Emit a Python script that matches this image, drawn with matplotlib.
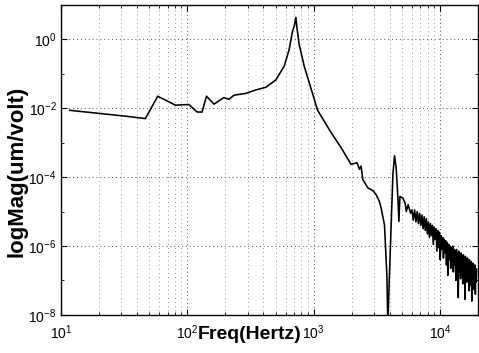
import matplotlib
matplotlib.use("Agg")
import matplotlib.pyplot as plt
import matplotlib.ticker as mticker
import numpy as np

plt.rcParams['font.family'] = ['Liberation Sans', 'DejaVu Sans']
plt.rcParams['mathtext.fontset'] = 'custom'
plt.rcParams['mathtext.rm'] = 'Liberation Sans'
plt.rcParams['mathtext.it'] = 'Liberation Sans:italic'
plt.rcParams['mathtext.bf'] = 'Liberation Sans:bold'

# frequentie (Hz) en log10 van de amplitude
freq_main = [11.8, 33.4, 46.7, 58.4, 80.7, 103, 120, 131, 142, 163, 195, 214,
             235, 290, 348, 419, 502, 585, 641, 681, 703, 724, 735, 769, 843,
             952, 1076, 1372, 1648, 1978, 2207, 2303, 2376, 2450, 2685, 2941,
             3124, 3320, 3421, 3638, 3800, 3866, 3980, 4100, 4240, 4368, 4500,
             4645, 4730, 4820, 5085, 5300, 5410, 5600, 5850]
logmag_main = [-2.06, -2.235, -2.30, -1.65, -1.91, -1.89, -2.11, -2.11, -1.65,
               -1.88, -1.69, -1.74, -1.62, -1.57, -1.47, -1.39, -1.18, -0.78,
               -0.29, 0.24, 0.39, 0.64, 0.39, -0.15, -0.78, -1.42, -2.06, -2.70,
               -3.14, -3.63, -3.58, -3.77, -3.68, -4.07, -4.31, -4.39, -4.51,
               -4.71, -4.90, -5.39, -6.86, -8.3, -6.86, -5.49, -3.92, -3.38,
               -3.73, -4.61, -5.29, -4.56, -4.61, -4.76, -5.0, -4.80, -5.05]

# ruisige staart boven ~6 kHz
freq_tail = [6000, 6150, 6300, 6450, 6600, 6750, 6900, 7050, 7200, 7350, 7500,
             7650, 7800, 7950, 8100, 8250, 8400, 8550, 8700, 8850, 9000, 9150,
             9300, 9450, 9600, 9750, 9900, 10050, 10200, 10350, 10500, 10650,
             10800, 10950, 11100, 11250, 11400, 11550, 11700, 11850, 12000,
             12150, 12300, 12450, 12600, 12750, 12900, 13050, 13200, 13350,
             13500, 13650, 13800, 13950, 14100, 14250, 14400, 14550, 14700,
             14850, 15000, 15150, 15300, 15450, 15600, 15750, 15900, 16050,
             16200, 16350, 16500, 16650, 16800, 16950, 17100, 17250, 17400,
             17550, 17700, 17850, 18000, 18150, 18300, 18450, 18600, 18750,
             18900, 19050, 19200, 19350, 19500]
logmag_tail = [-4.95, -5.25, -4.95, -5.3, -5.0, -5.35, -5.05, -5.4, -5.1, -5.5,
               -5.15, -5.55, -5.2, -5.65, -5.3, -5.75, -5.35, -5.7, -5.4, -5.95,
               -5.45, -5.8, -5.5, -6.15, -5.55, -6.05, -5.6, -6.4, -5.7, -6.1,
               -5.75, -6.35, -5.8, -6.2, -5.85, -6.55, -5.9, -6.85, -5.95, -6.4,
               -6.0, -6.65, -6.05, -6.45, -6.0, -6.75, -6.1, -6.55, -6.15, -7.0,
               -6.1, -6.6, -6.2, -7.5, -6.15, -6.75, -6.25, -6.95, -6.2, -6.65,
               -6.3, -7.1, -6.25, -6.8, -6.35, -7.55, -6.3, -6.9, -6.4, -7.05,
               -6.35, -6.85, -6.45, -7.3, -6.4, -6.95, -6.5, -7.15, -6.45, -7.6,
               -6.55, -7.0, -6.5, -7.25, -6.6, -7.05, -6.55, -7.4, -6.65, -7.05,
               -6.7]

freq = np.array(freq_main + freq_tail)
mag = 10.0 ** np.array(logmag_main + logmag_tail)

fig = plt.figure(figsize=(4.79, 3.53), dpi=100)
ax = fig.add_axes([0.127, 0.108, 0.871, 0.878])

ax.loglog(freq, mag, color='black', linewidth=1.15)

ax.set_xlim(10, 2e4)
ax.set_ylim(1e-8, 1e1)
ax.yaxis.set_major_locator(mticker.FixedLocator([1e-8, 1e-6, 1e-4, 1e-2, 1e0]))
ax.yaxis.set_minor_locator(mticker.FixedLocator([1e-7, 1e-5, 1e-3, 1e-1]))
ax.yaxis.set_minor_formatter(mticker.NullFormatter())

ax.grid(True, which='major', linestyle=(0, (1, 3)), color='0.3', linewidth=0.7)
ax.xaxis.grid(True, which='minor', linestyle=(0, (1, 4)), color='0.45', linewidth=0.6)

ax.tick_params(which='both', direction='in', top=True, right=True,
               labelsize=10)
ax.tick_params(axis='x', pad=6)
ax.tick_params(axis='y', pad=3)
ax.tick_params(which='major', length=4)
ax.tick_params(which='minor', length=2)
for s in ax.spines.values():
    s.set_linewidth(1.0)

ax.set_xlabel('Freq(Hertz)', fontsize=14, fontweight='bold')
ax.xaxis.set_label_coords(0.452, -0.035)
ax.set_ylabel('logMag(um/volt)', fontsize=16, fontweight='bold')
ax.yaxis.set_label_coords(-0.08, 0.463)

fig.savefig('out.png', dpi=100)
